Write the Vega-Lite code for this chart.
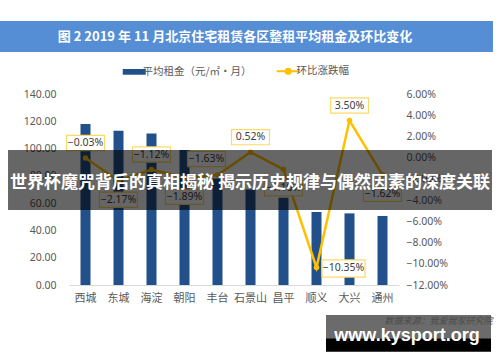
{
  "$schema": "https://vega.github.io/schema/vega-lite/v6.json",
  "width": 330,
  "height": 191,
  "autosize": "none",
  "padding": {"left": 69, "top": 94, "right": 101, "bottom": 77},
  "background": "white",
  "config": {
    "view": {"stroke": null},
    "font": "Noto Sans CJK SC",
    "axis": {"labelColor": "#595959", "labelFont": "Noto Sans CJK SC", "grid": false, "ticks": false}
  },
  "data": {
    "values": [
      {"district": "西城", "rent": 118, "pct": -0.0003},
      {"district": "东城", "rent": 113, "pct": -0.0217},
      {"district": "海淀", "rent": 111, "pct": -0.0112},
      {"district": "朝阳", "rent": 99, "pct": -0.0189},
      {"district": "丰台", "rent": 78, "pct": -0.0163},
      {"district": "石景山", "rent": 70, "pct": 0.0052},
      {"district": "昌平", "rent": 64, "pct": -0.011},
      {"district": "顺义", "rent": 53.5, "pct": -0.1035},
      {"district": "大兴", "rent": 52.5, "pct": 0.035},
      {"district": "通州", "rent": 50.6, "pct": -0.0162}
    ]
  },
  "layer": [
    {
      "mark": {"type": "bar", "size": 10},
      "encoding": {
        "x": {
          "field": "district", "type": "nominal", "sort": null,
          "scale": {"paddingInner": 0, "paddingOuter": 0},
          "axis": {"title": null, "labelAngle": 0, "labelFontSize": 11, "labelPadding": 7, "domainColor": "#D9D9D9", "ticks": false}
        },
        "y": {
          "field": "rent", "type": "quantitative",
          "scale": {"domain": [0, 140], "nice": false},
          "axis": {"title": null, "values": [0, 20, 40, 60, 80, 100, 120, 140], "format": ".2f", "domain": false, "labelPadding": 13, "labelFontSize": 10.5, "labelFont": "Noto Sans"}
        },
        "color": {
          "datum": "平均租金（元/㎡·月）",
          "scale": {"domain": ["平均租金（元/㎡·月）", "环比涨跌幅"], "range": ["#22508A", "#FFC000"]},
          "legend": {
            "orient": "none", "legendX": 60, "legendY": -28, "direction": "horizontal",
            "title": null, "columnPadding": 20, "labelFontSize": 10.5, "labelColor": "#595959",
            "symbolSize": 529, "labelOffset": 3,
            "encode": {
              "symbols": {
                "update": {
                  "shape": {"signal": "datum.value === '环比涨跌幅' ? 'M-1,0H1M-0.22,0A0.22,0.22,0,1,1,0.22,0A0.22,0.22,0,1,1,-0.22,0' : 'M-1,-0.25H1V0.25H-1Z'"},
                  "fill": {"signal": "datum.value === '环比涨跌幅' ? '#FFC000' : '#22508A'"},
                  "stroke": {"signal": "datum.value === '环比涨跌幅' ? '#FFC000' : '#22508A'"},
                  "strokeWidth": {"signal": "datum.value === '环比涨跌幅' ? 2 : 0"},
                  "opacity": {"value": 1}
                }
              }
            }
          }
        }
      }
    },
    {
      "encoding": {
        "x": {"field": "district", "type": "nominal", "sort": null, "scale": {"paddingInner": 0, "paddingOuter": 0}, "axis": null},
        "y": {
          "field": "pct", "type": "quantitative",
          "scale": {"domain": [-0.12, 0.06], "nice": false, "zero": false},
          "axis": {"orient": "right", "title": null, "values": [-0.12, -0.1, -0.08, -0.06, -0.04, -0.02, 0, 0.02, 0.04, 0.06], "format": ".2%", "domain": false, "labelPadding": 7, "labelFontSize": 10.5, "labelFont": "Noto Sans"}
        }
      },
      "layer": [
        {"mark": {"type": "line", "strokeWidth": 2.5}, "encoding": {"color": {"datum": "环比涨跌幅"}}},
        {"mark": {"type": "point", "filled": true, "size": 30, "color": "#FFC000", "opacity": 1}},
        {
          "transform": [{"filter": {"field": "district", "oneOf": ["西城", "海淀", "石景山", "大兴"]}}],
          "layer": [
            {"mark": {"type": "point", "shape": "M-1,-0.4H1V0.4H-1Z", "size": 1444, "filled": true, "fill": "white", "stroke": "#FFD966", "strokeWidth": 1.2, "opacity": 1, "yOffset": -15}},
            {"mark": {"type": "text", "fontSize": 10.5, "color": "#404040", "yOffset": -15, "font": "Noto Sans"}, "encoding": {"text": {"field": "pct", "format": ".2%"}}}
          ]
        },
        {
          "transform": [{"filter": {"field": "district", "oneOf": ["丰台"]}}],
          "layer": [
            {"mark": {"type": "point", "shape": "M-1,-0.4H1V0.4H-1Z", "size": 1444, "filled": true, "fill": "white", "stroke": "#FFD966", "strokeWidth": 1.2, "opacity": 1, "yOffset": -16, "xOffset": -11}},
            {"mark": {"type": "text", "fontSize": 10.5, "color": "#404040", "yOffset": -16, "xOffset": -11, "font": "Noto Sans"}, "encoding": {"text": {"field": "pct", "format": ".2%"}}}
          ]
        },
        {
          "transform": [{"filter": {"field": "district", "oneOf": ["东城", "朝阳", "通州", "昌平"]}}],
          "layer": [
            {"mark": {"type": "point", "shape": "M-1,-0.4H1V0.4H-1Z", "size": 1444, "filled": true, "fill": "white", "stroke": "#FFD966", "strokeWidth": 1.2, "opacity": 1, "yOffset": 19}},
            {"mark": {"type": "text", "fontSize": 10.5, "color": "#404040", "yOffset": 19, "font": "Noto Sans"}, "encoding": {"text": {"field": "pct", "format": ".2%"}}}
          ]
        },
        {
          "transform": [{"filter": {"field": "district", "oneOf": ["顺义"]}}],
          "layer": [
            {"mark": {"type": "point", "shape": "M-1,-0.4H1V0.4H-1Z", "size": 1849, "filled": true, "fill": "white", "stroke": "#FFD966", "strokeWidth": 1.2, "opacity": 1, "yOffset": 1, "xOffset": 27}},
            {"mark": {"type": "text", "fontSize": 10.5, "color": "#404040", "yOffset": 1, "xOffset": 27, "font": "Noto Sans"}, "encoding": {"text": {"field": "pct", "format": ".2%"}}}
          ]
        }
      ]
    },
    {
      "data": {"values": [{"title": "图 2   2019 年 11 月北京住宅租赁各区整租平均租金及环比变化", "banner": "世界杯魔咒背后的真相揭秘 揭示历史规律与偶然因素的深度关联", "site": "www.kysport.org", "source": "数据来源：我爱我家研究院"}]},
      "encoding": {
        "x": {"type": "quantitative", "scale": {"domain": [0, 10], "nice": false, "zero": false}, "axis": null},
        "y": {"type": "quantitative", "scale": {"domain": [0, 140], "nice": false, "zero": false}, "axis": null}
      },
      "layer": [
        {
          "mark": {"type": "rect", "color": "#558ED5", "clip": false},
          "encoding": {
            "x": {"datum": -2.091, "type": "quantitative", "scale": {"domain": [0, 10], "nice": false, "zero": false}, "axis": null},
            "x2": {"datum": 12.848},
            "y": {"datum": 193.5, "type": "quantitative", "scale": {"domain": [0, 140], "nice": false, "zero": false}, "axis": null},
            "y2": {"datum": 170.8}
          }
        },
        {
          "mark": {"type": "text", "color": "white", "fontSize": 13, "fontWeight": "bold", "clip": false},
          "encoding": {
            "x": {"datum": 5.03, "type": "quantitative"},
            "y": {"datum": 182.1, "type": "quantitative"},
            "text": {"field": "title"}
          }
        },
        {
          "mark": {"type": "rect", "color": "black", "opacity": 0.6, "clip": false},
          "encoding": {
            "x": {"datum": -1.848, "type": "quantitative"},
            "x2": {"datum": 12.818},
            "y": {"datum": 99, "type": "quantitative"},
            "y2": {"datum": 55}
          }
        },
        {
          "mark": {"type": "text", "color": "white", "fontSize": 17, "fontWeight": "bold", "clip": false},
          "encoding": {
            "x": {"datum": 5.485, "type": "quantitative"},
            "y": {"datum": 75, "type": "quantitative"},
            "text": {"field": "banner"}
          }
        },
        {
          "mark": {"type": "rect", "color": "#6B6B6B", "clip": false},
          "encoding": {
            "x": {"datum": 7.788, "type": "quantitative"},
            "x2": {"datum": 12.788},
            "y": {"datum": -22, "type": "quantitative"},
            "y2": {"datum": -39}
          }
        },
        {
          "mark": {"type": "rect", "color": "black", "clip": false},
          "encoding": {
            "x": {"datum": 7.788, "type": "quantitative"},
            "x2": {"datum": 12.788},
            "y": {"datum": -39, "type": "quantitative"},
            "y2": {"datum": -49}
          }
        },
        {
          "mark": {"type": "text", "color": "#4A4A4A", "fontSize": 9, "fontStyle": "italic", "clip": false},
          "encoding": {
            "x": {"datum": 11.2, "type": "quantitative"},
            "y": {"datum": -26.5, "type": "quantitative"},
            "text": {"field": "source"}
          }
        },
        {
          "mark": {"type": "text", "color": "white", "fontSize": 18, "fontWeight": "bold", "font": "Liberation Sans", "baseline": "alphabetic", "clip": false},
          "encoding": {
            "x": {"datum": 10.242, "type": "quantitative"},
            "y": {"datum": -41, "type": "quantitative"},
            "text": {"field": "site"}
          }
        }
      ]
    }
  ],
  "resolve": {"scale": {"y": "independent", "x": "independent"}}
}
